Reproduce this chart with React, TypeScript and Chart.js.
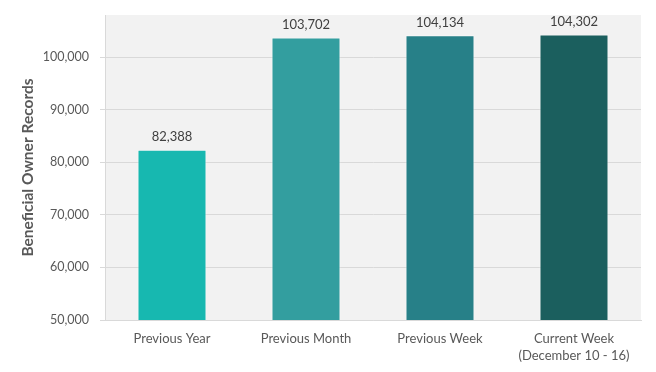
import React, { useEffect, useRef } from "react";
import { Chart, registerables } from "chart.js";

Chart.register(...registerables);

const categories: (string | string[])[] = [
  "Previous Year",
  "Previous Month",
  "Previous Week",
  ["Current Week", "(December 10 - 16)"],
];
const values = [82388, 103702, 104134, 104302];
const barColors = ["#17B8B0", "#339E9F", "#278088", "#1B5F5E"];
const yTicks = [50000, 60000, 70000, 80000, 90000, 100000];
const yTitle = "Beneficial Owner Records";

const FONT = "Lato, 'Open Sans', sans-serif";

const plotBg = {
  id: "plotBg",
  beforeDraw(chart: any) {
    const { ctx, chartArea } = chart;
    ctx.save();
    ctx.fillStyle = "#F2F2F2";
    ctx.fillRect(chartArea.left, chartArea.top, chartArea.right - chartArea.left, chartArea.bottom - chartArea.top);
    ctx.restore();
  },
};

const dataLabels = {
  id: "dataLabels",
  afterDatasetsDraw(chart: any) {
    const { ctx } = chart;
    const meta = chart.getDatasetMeta(0);
    ctx.save();
    ctx.font = `13px ${FONT}`;
    ctx.fillStyle = "#404040";
    ctx.textAlign = "center";
    ctx.textBaseline = "bottom";
    meta.data.forEach((bar: any, i: number) => {
      ctx.fillText(values[i].toLocaleString("en-US"), bar.x, bar.y - 6);
    });
    ctx.restore();
  },
};

export default function App() {
  const ref = useRef<HTMLCanvasElement>(null);
  useEffect(() => {
    if (!ref.current) return;
    const chart = new Chart(ref.current, {
      type: "bar",
      data: {
        labels: categories,
        datasets: [
          {
            data: values,
            backgroundColor: barColors,
            borderColor: "rgba(255,255,255,0.5)",
            borderWidth: 1,
            categoryPercentage: 1,
            barPercentage: 0.515,
          },
        ],
      },
      options: {
        animation: false,
        responsive: false,
        maintainAspectRatio: false,
        layout: { padding: { left: 0, right: 15, top: 15, bottom: 0 } },
        plugins: { legend: { display: false }, tooltip: { enabled: false } },
        scales: {
          x: {
            afterFit: (axis: any) => {
              axis.height = 52;
            },
            grid: { display: false, drawTicks: false },
            border: { color: "#D9D9D9" },
            ticks: {
              color: "#595959",
              font: { family: FONT, size: 13, lineHeight: 1.3 },
              padding: 10,
              maxRotation: 0,
            },
          },
          y: {
            min: 50000,
            max: 108000,
            afterBuildTicks: (axis: any) => {
              axis.ticks = yTicks.map((v) => ({ value: v }));
            },
            afterFit: (axis: any) => {
              axis.width = 105;
              axis.paddingTop = 0;
              axis.paddingBottom = 0;
            },
            grid: { color: "#D9D9D9", tickLength: 5 },
            border: { color: "#D9D9D9" },
            ticks: {
              color: "#595959",
              font: { family: FONT, size: 12.5 },
              padding: 11,
              callback: (v: any) => Number(v).toLocaleString("en-US"),
            },
            title: {
              display: true,
              text: yTitle,
              color: "#595959",
              font: { family: FONT, size: 15.5, weight: "bold" },
              padding: { top: 18.5, bottom: 0 },
            },
          },
        },
      },
      plugins: [plotBg, dataLabels],
    });
    return () => chart.destroy();
  }, []);
  return (
    <div style={{ position: "absolute", left: 0, top: 0, width: 656, height: 372, background: "#fff" }}>
      <canvas ref={ref} width={656} height={372} style={{ width: 656, height: 372 }} />
    </div>
  );
}
